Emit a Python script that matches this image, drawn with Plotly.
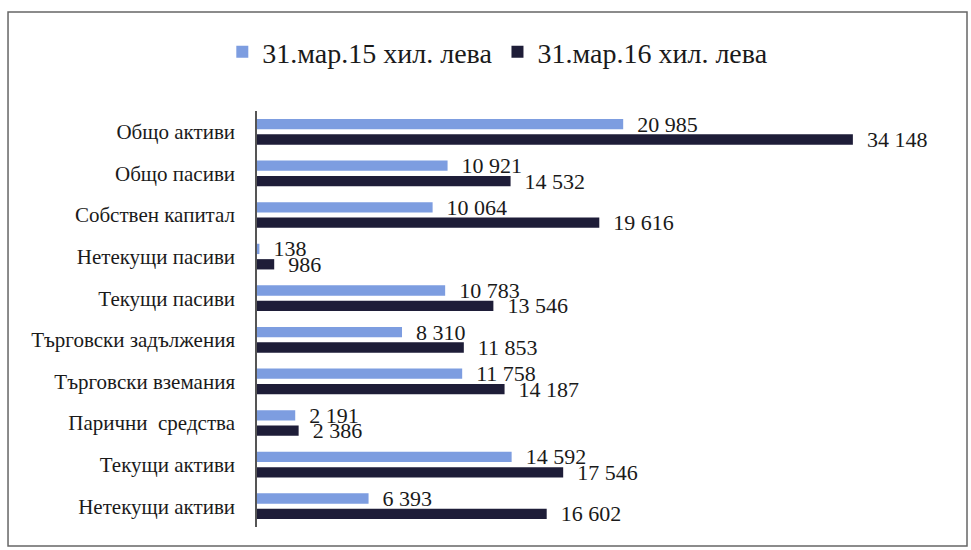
import plotly.graph_objects as go

categories = ["Общо активи", "Общо пасиви", "Собствен капитал", "Нетекущи пасиви",
              "Текущи пасиви", "Търговски задължения", "Търговски вземания",
              "Парични  средства", "Текущи активи", "Нетекущи активи"]
series_names = ["31.мар.15 хил. лева", "31.мар.16 хил. лева"]
values_2015 = [20985, 10921, 10064, 138, 10783, 8310, 11758, 2191, 14592, 6393]
values_2016 = [34148, 14532, 19616, 986, 13546, 11853, 14187, 2386, 17546, 16602]
colors = ["#7d9de0", "#1e1d38"]

SERIF = "Liberation Serif"


def fmt(v):
    return f"{v:,}".replace(",", " ")


fig = go.Figure()
for name, vals, col in zip(series_names, [values_2015, values_2016], colors):
    fig.add_trace(go.Bar(
        y=categories, x=vals, name=name, orientation="h",
        marker=dict(color=col, line=dict(width=0)),
        text=[fmt(v) for v in vals], texttemplate="  %{text}", textposition="outside",
        constraintext="none", cliponaxis=False,
        textfont=dict(family=SERIF, size=22, color="#1a1a1a"),
    ))

fig.update_layout(
    width=971, height=550,
    margin=dict(l=257, r=16, t=111, b=23),
    paper_bgcolor="white", plot_bgcolor="white",
    barmode="group", bargap=0.26, bargroupgap=0.33,
    font=dict(family=SERIF, color="#1a1a1a"),
    legend=dict(orientation="h", x=0.345, xanchor="center", y=1.142, yanchor="middle",
                font=dict(family=SERIF, size=28, color="#1a1a1a"), itemsizing="constant",
                traceorder="normal"),
    xaxis=dict(range=[0, 40000], visible=False, showgrid=False, zeroline=False),
    yaxis=dict(autorange="reversed", showline=True, linecolor="#555555", linewidth=1.5,
               showgrid=False, ticks="", ticklabelstandoff=16,
               tickfont=dict(family=SERIF, size=21, color="#1a1a1a")),
    shapes=[dict(type="rect", xref="paper", yref="paper",
                 x0=-0.3567, x1=1.0172, y0=-0.0457, y1=1.238,
                 line=dict(color="#666666", width=1.5))],
)

fig.write_html("out.html")
